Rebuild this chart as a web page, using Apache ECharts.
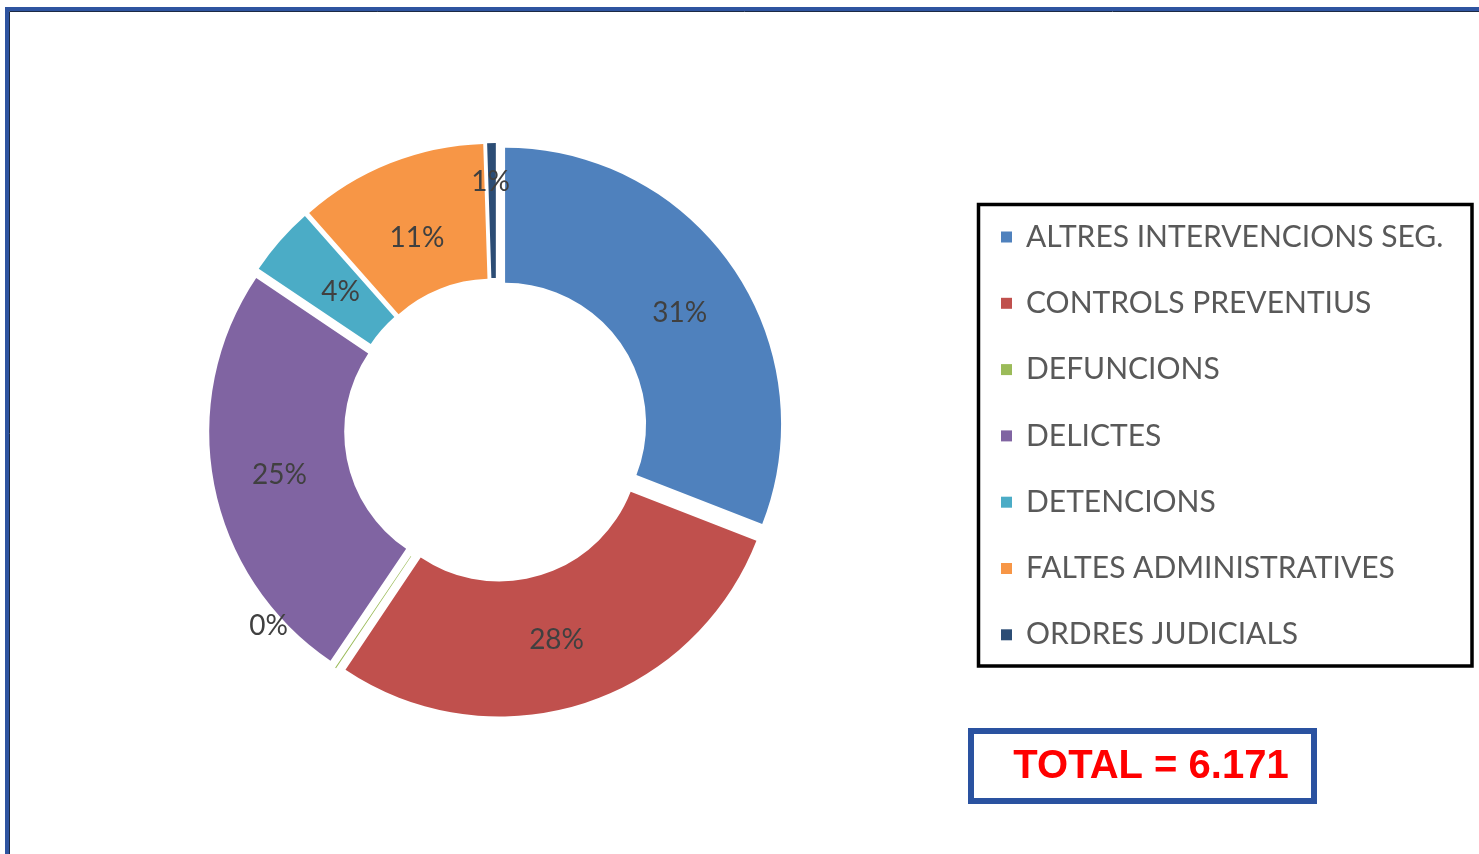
<!DOCTYPE html>
<html><head><meta charset="utf-8">
<script src="https://cdn.jsdelivr.net/npm/echarts@6/dist/echarts.min.js"></script>
<style>html,body{margin:0;padding:0;background:#fff}#c{width:1479px;height:854px}</style>
</head><body><div id="c"></div>
<script>
const categories = ['ALTRES INTERVENCIONS SEG.','CONTROLS PREVENTIUS','DEFUNCIONS','DELICTES','DETENCIONS','FALTES ADMINISTRATIVES','ORDRES JUDICIALS'];
const values = [1908, 1758, 4, 1540, 250, 680, 31];
const colors = ['#4F81BD','#C0504D','#9BBB59','#8064A2','#4BACC6','#F79646','#2C4D75'];

const total = values.reduce((a,b)=>a+b,0);
const totalText = 'TOTAL = ' + total.toString().replace(/\B(?=(\d{3})+(?!\d))/g,'.');

const labelShift = {0:[0,9], 1:[-6,-2], 2:[-103,11], 3:[2,3], 4:[12,9], 5:[3,15], 6:[-2,-26]};

const chart = echarts.init(document.getElementById('c'), null, {renderer:'canvas'});
chart.setOption({
  animation:false,
  backgroundColor:'#fff',
  color: colors,
  graphic:[
    {type:'rect', z:0, shape:{x:7,y:9,width:1500,height:900}, style:{fill:'none',stroke:'#2E54A0',lineWidth:4}},
    {type:'rect', z:0, shape:{x:9.5,y:11.5,width:1500,height:900}, style:{fill:'none',stroke:'#1c2a44',lineWidth:1}},
    {type:'rect', z:0, shape:{x:978.5,y:204.5,width:493.5,height:461.5}, style:{fill:'none',stroke:'#000',lineWidth:3.5}},
    {type:'rect', z:0, shape:{x:971,y:731,width:343,height:70}, style:{fill:'#fff',stroke:'#2A52A0',lineWidth:6}},
    {type:'text', z:2, x:1151, y:767, style:{text: totalText, fill:'#FF0000', font:'bold 40px "Liberation Sans", Arial, sans-serif', align:'center', verticalAlign:'middle'}}
  ],
  legend:{
    orient:'vertical', left:996, top:217,
    selectedMode:false,
    icon:'rect', itemWidth:11, itemHeight:11, itemGap:36.3,
    data: categories,
    textStyle:{color:'#595959', fontSize:30, fontFamily:'Lato, sans-serif', lineHeight:30, padding:[0,0,0,9]}
  },
  series:[{
    type:'pie',
    center:[496,430],
    radius:[141,276],
    startAngle:90,
    clockwise:true,
    selectedMode:'multiple',
    selectedOffset:11,
    avoidLabelOverlap:false,
    emphasis:{scale:false, disabled:true},
    itemStyle:{borderWidth:0},
    label:{
      show:true, position:'inside', color:'#404040', fontSize:28, fontFamily:'Lato, sans-serif',
      formatter: p => Math.round(p.value/total*100) + '%'
    },
    labelLine:{show:false},
    labelLayout: function(params){
      const s = labelShift[params.dataIndex];
      return s ? {dx:s[0], dy:s[1]} : {};
    },
    data: categories.map((n,i)=>({name:n, value:values[i], selected:true}))
  }]
});
</script></body></html>
